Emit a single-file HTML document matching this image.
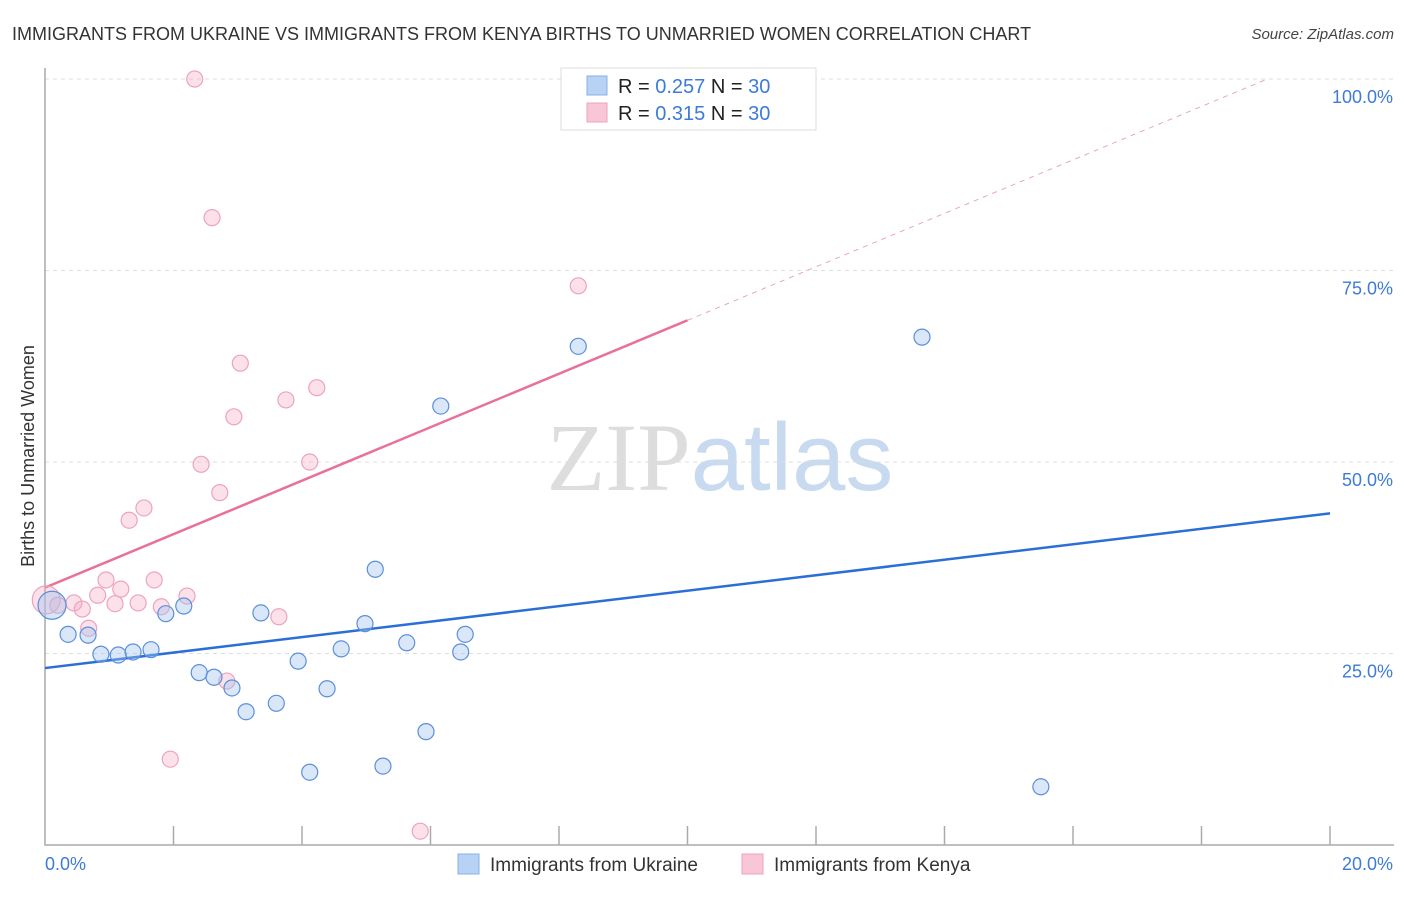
<!DOCTYPE html>
<html><head><meta charset="utf-8"><style>
body{margin:0;background:#fff;font-family:"Liberation Sans",sans-serif;}
svg text{font-family:"Liberation Sans",sans-serif;}
</style></head><body>
<svg id="chart" width="1406" height="892" xmlns="http://www.w3.org/2000/svg">
<text x="12" y="40" font-size="18" fill="#333">IMMIGRANTS FROM UKRAINE VS IMMIGRANTS FROM KENYA BIRTHS TO UNMARRIED WOMEN CORRELATION CHART</text>
<text x="1394" y="39" font-size="15" fill="#444" text-anchor="end" font-style="italic">Source: ZipAtlas.com</text>
<text x="720" y="490" font-size="96" text-anchor="middle"><tspan fill="#ddd" font-family="Liberation Serif">ZIP</tspan><tspan fill="#c8daf0">atlas</tspan></text>
<text transform="translate(34,456) rotate(-90)" font-size="18" fill="#333" text-anchor="middle">Births to Unmarried Women</text>
<g id="grid"></g>
<g id="axes"></g>
<g id="lines"></g>
<g id="points"></g>
<g>
<rect x="561" y="68" width="255" height="62" fill="#fff" stroke="#ddd"/>
<rect x="587" y="76" width="20" height="19" fill="#b7d2f5" stroke="#8ab0e6"/>
<text x="618" y="93" font-size="20" fill="#222">R = <tspan fill="#3d7bd6">0.257</tspan>   N = <tspan fill="#3d7bd6">30</tspan></text>
<rect x="587" y="103" width="20" height="19" fill="#f8c6d6" stroke="#eda3bd"/>
<text x="618" y="120" font-size="20" fill="#222">R =  <tspan fill="#3d7bd6">0.315</tspan>   N = <tspan fill="#3d7bd6">30</tspan></text>
</g>
<g>
<rect x="458" y="854" width="21" height="20" fill="#b7d2f5" stroke="#8ab0e6"/>
<text x="490" y="871" font-size="19" fill="#333">Immigrants from Ukraine</text>
<rect x="742" y="854" width="21" height="20" fill="#f8c6d6" stroke="#eda3bd"/>
<text x="774" y="871" font-size="19" fill="#333">Immigrants from Kenya</text>
</g>
</svg>
<script>
const yTicks=[25,50,75,100];
const yTickLabels=["25.0%","50.0%","75.0%","100.0%"];
const xTicks=[0,2,4,6,8,10,12,14,16,18,20];
const ukraineX=[0.11,0.36,0.67,0.87,1.14,1.37,1.65,1.88,2.16,2.40,2.63,2.91,3.13,3.36,3.60,3.94,4.12,4.39,4.61,4.98,5.14,5.26,5.63,5.93,6.16,6.47,6.54,8.30,13.65,15.50];
const ukraineY=[31.3,27.5,27.4,24.9,24.8,25.2,25.5,30.2,31.2,22.5,21.9,20.5,17.4,30.3,18.5,24.0,9.5,20.4,25.6,28.9,36.0,10.3,26.4,14.8,57.3,25.2,27.5,65.1,66.3,7.6];
const kenyaX=[0.02,0.20,0.45,0.58,0.68,0.82,0.95,1.09,1.18,1.31,1.45,1.54,1.70,1.81,1.95,2.21,2.33,2.43,2.60,2.72,2.83,2.94,3.04,3.64,3.75,4.12,4.23,5.84,8.30];
const kenyaY=[32.0,31.3,31.6,30.8,28.3,32.6,34.6,31.5,33.4,42.4,31.6,44.0,34.6,31.1,11.2,32.5,100,49.7,81.9,46.0,21.4,55.9,62.9,29.8,58.1,50.0,59.7,1.8,73.0];
const ukraineTrend=[23.1,43.3];
const kenyaTrend=[33.6,68.5];
const NS="http://www.w3.org/2000/svg";
const sx=v=>45+v*(1285/20);
const sy=v=>845-v*7.66;
function mk(parent,tag,attrs){const e=document.createElementNS(NS,tag);for(const k in attrs)e.setAttribute(k,attrs[k]);document.getElementById(parent).appendChild(e);return e;}
yTicks.forEach((t,i)=>{
 const g=mk('grid','line',{x1:45,x2:1394,y1:sy(t),y2:sy(t),stroke:'#ddd','stroke-dasharray':'4,4'});
 
 
 const l=mk('grid','text',{x:1393,y:sy(t)+24,'font-size':18,fill:'#3d7bd6','text-anchor':'end'});
 l.textContent=yTickLabels[i];
 
 
});
const ax=mk('axes','path',{d:'M45,68 V845 H1394',fill:'none',stroke:'#aaa','stroke-width':1.5});


xTicks.forEach(t=>{if(t===0)return;
 const k=mk('axes','line',{x1:sx(t),x2:sx(t),y1:826,y2:845,stroke:'#aaa','stroke-width':1.5});
 
 
});
const x0=mk('axes','text',{x:45,y:870,'font-size':18,fill:'#3d7bd6'});x0.textContent='0.0%';


const x1=mk('axes','text',{x:1393,y:870,'font-size':18,fill:'#3d7bd6','text-anchor':'end'});x1.textContent='20.0%';


function drawPts(xs,ys,fill,stroke,name){xs.forEach((x,i)=>{
 const c=mk('points','circle',{cx:sx(x),cy:sy(ys[i]),r:(i===0?14:8),fill:fill,stroke:stroke,'stroke-width':1.2});
 
 
});}
drawPts(kenyaX,kenyaY,'rgba(246,170,195,0.35)','#eda3bd','kenya-point');
drawPts(ukraineX,ukraineY,'rgba(160,195,240,0.4)','#5b8fdc','ukraine-point');
const ub=mk('lines','line',{x1:sx(0),y1:sy(ukraineTrend[0]),x2:sx(20),y2:sy(ukraineTrend[1]),stroke:'#2b6fd6','stroke-width':2.5});


const slope=(kenyaTrend[1]-kenyaTrend[0])/10;
const kb=mk('lines','line',{x1:sx(0),y1:sy(kenyaTrend[0]),x2:sx(10),y2:sy(kenyaTrend[1]),stroke:'#e8709a','stroke-width':2.5});


const xe=(100-kenyaTrend[0])/slope;
const kd=mk('lines','line',{x1:sx(10),y1:sy(kenyaTrend[1]),x2:sx(xe),y2:sy(100),stroke:'#eaa5bd','stroke-width':1,'stroke-dasharray':'5,5'});


</script>
</body></html>
